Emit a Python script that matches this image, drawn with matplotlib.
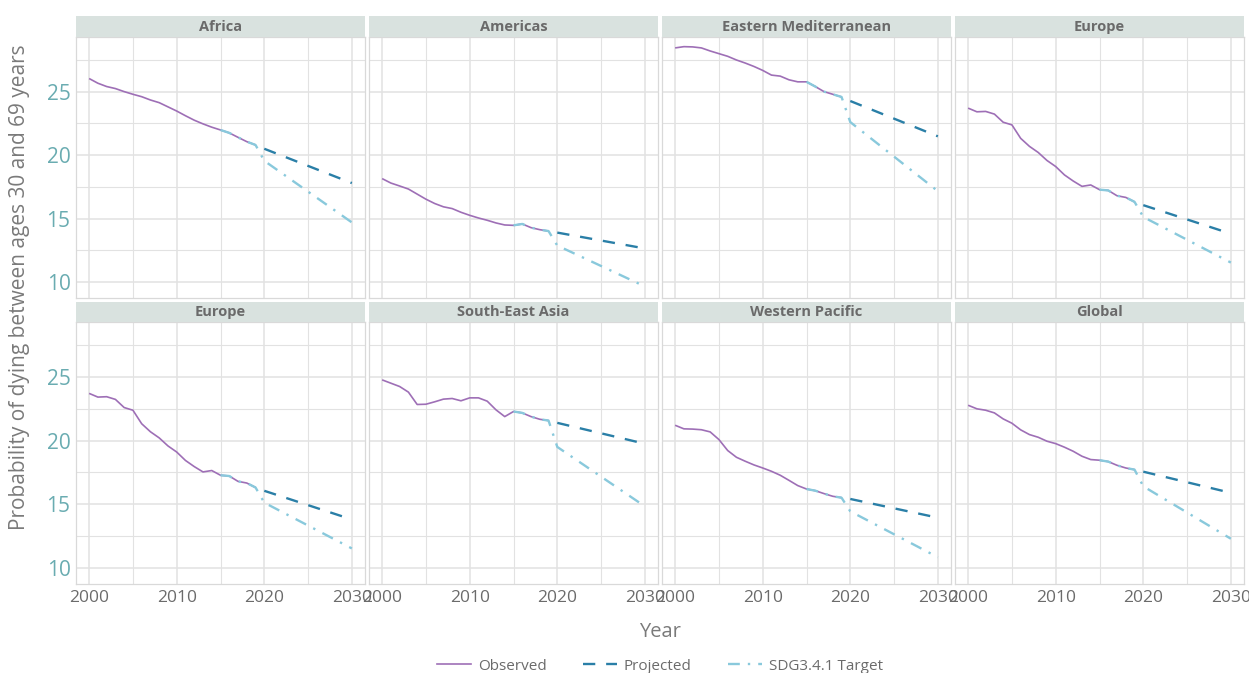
import matplotlib.pyplot as plt
import matplotlib.lines as mlines
import numpy as np

plt.rcParams['font.family'] = ['Open Sans', 'DejaVu Sans']

regions = ["Africa", "Americas", "Eastern Mediterranean", "Europe",
           "Europe", "South-East Asia", "Western Pacific", "Global"]

obs_years = np.arange(2000, 2020)
proj_years = [2020, 2030]

observed = {
    "Africa": [26.03, 25.66, 25.4, 25.24, 25.0, 24.79, 24.6, 24.34, 24.13, 23.8,
               23.47, 23.1, 22.75, 22.46, 22.2, 21.98, 21.75, 21.4, 21.06, 20.8],
    "Americas": [18.15, 17.8, 17.57, 17.33, 16.93, 16.53, 16.19, 15.93, 15.79, 15.5,
                 15.26, 15.05, 14.87, 14.66, 14.5, 14.47, 14.58, 14.29, 14.13, 14.02],
    "Eastern Mediterranean": [28.44, 28.54, 28.52, 28.44, 28.2, 27.99, 27.78, 27.49, 27.25, 26.98,
                              26.67, 26.3, 26.22, 25.93, 25.77, 25.77, 25.4, 25.0, 24.79, 24.58],
    "Europe": [23.7, 23.41, 23.44, 23.23, 22.59, 22.38, 21.32, 20.69, 20.21, 19.58,
               19.1, 18.44, 17.96, 17.54, 17.65, 17.28, 17.22, 16.8, 16.67, 16.32],
    "South-East Asia": [24.76, 24.5, 24.24, 23.8, 22.83, 22.85, 23.04, 23.25, 23.3, 23.12,
                        23.35, 23.35, 23.09, 22.41, 21.88, 22.28, 22.17, 21.88, 21.67, 21.57],
    "Western Pacific": [21.2, 20.92, 20.9, 20.85, 20.68, 20.08, 19.22, 18.69, 18.38, 18.09,
                        17.85, 17.59, 17.28, 16.88, 16.47, 16.2, 16.07, 15.84, 15.63, 15.52],
    "Global": [22.77, 22.49, 22.38, 22.17, 21.7, 21.36, 20.84, 20.47, 20.26, 19.95,
               19.76, 19.48, 19.16, 18.77, 18.51, 18.46, 18.35, 18.06, 17.85, 17.72],
}

# projected values at 2020 and 2030
projected = {
    "Africa": [20.5, 17.8],
    "Americas": [13.9, 12.65],
    "Eastern Mediterranean": [24.26, 21.48],
    "Europe": [16.06, 13.81],
    "South-East Asia": [21.39, 19.75],
    "Western Pacific": [15.42, 13.95],
    "Global": [17.56, 15.9],
}

# SDG target path at 2020 and 2030 (joins observed from 2015)
sdg_target = {
    "Africa": [19.55, 14.7],
    "Americas": [12.88, 9.66],
    "Eastern Mediterranean": [22.6, 17.16],
    "Europe": [15.13, 11.54],
    "South-East Asia": [19.5, 14.84],
    "Western Pacific": [14.45, 10.85],
    "Global": [16.41, 12.3],
}

c_obs = "#9e6fb6"
c_proj = "#2a7fa7"
c_sdg = "#89c9dc"
grid_c = "#e2e2e2"

W, H = 1249, 673
fig = plt.figure(figsize=(W / 100, H / 100), dpi=100)

col_left = [76, 369, 662, 955]
col_w = 289
rows = [(37, 298, 16), (322, 584, 302)]

for i, reg in enumerate(regions):
    r, c = divmod(i, 4)
    top, bottom, strip_top = rows[r]
    ax = fig.add_axes([col_left[c] / W, 1 - bottom / H, col_w / W, (bottom - top) / H])
    ax.set_xlim(1998.5, 2031.5)
    ax.set_ylim(8.75, 29.3)
    ax.set_xticks([2000, 2010, 2020, 2030])
    ax.set_xticks([2005, 2015, 2025], minor=True)
    ax.set_yticks([10, 15, 20, 25])
    ax.set_yticks([12.5, 17.5, 22.5, 27.5], minor=True)
    ax.grid(which="major", color=grid_c, lw=1.1)
    ax.grid(which="minor", color=grid_c, lw=0.8)
    ax.set_axisbelow(True)
    for s in ax.spines.values():
        s.set_color("#d9d9d9")
        s.set_linewidth(0.9)
    ax.tick_params(which="both", length=0)
    ax.tick_params(axis="y", labelsize=15, labelcolor="#6aacb1", pad=4)
    ax.tick_params(axis="x", labelsize=12.5, labelcolor="#6b6b6b", pad=4)
    if c != 0:
        ax.set_yticklabels([])
    if r == 0:
        ax.set_xticklabels([])

    obs = observed[reg]
    proj = projected[reg]
    sdg = sdg_target[reg]
    sdg_years = list(obs_years[15:]) + proj_years
    sdg_vals = list(obs[15:]) + sdg

    ax.plot(obs_years, obs, color=c_obs, lw=1.2, solid_capstyle="butt")
    ax.plot(proj_years, proj, color=c_proj, lw=1.7, dashes=(5.2, 4.6))
    ax.plot(sdg_years, sdg_vals, color=c_sdg, lw=1.7, dashes=(5.0, 3.4, 1.0, 3.4))

    sax = fig.add_axes([col_left[c] / W, 1 - top / H, col_w / W, (top - strip_top) / H])
    sax.set_facecolor("#d9e2df")
    sax.set_xticks([])
    sax.set_yticks([])
    for s in sax.spines.values():
        s.set_visible(False)
    sax.text(0.5, 0.48, reg, ha="center", va="center", fontsize=10.5,
             fontweight="bold", color="#6a6a6a", transform=sax.transAxes)

fig.text(20 / W, 1 - 287 / H, "Probability of dying between ages 30 and 69 years",
         rotation=90, ha="center", va="center", fontsize=15, color="#7a7a7a")
fig.text(660 / W, 1 - 632 / H, "Year", ha="center", va="center", fontsize=14.5,
         color="#7a7a7a")

handles = [
    mlines.Line2D([], [], color=c_obs, lw=1.2),
    mlines.Line2D([], [], color=c_proj, lw=1.7, dashes=(5.2, 4.6)),
    mlines.Line2D([], [], color=c_sdg, lw=1.7, dashes=(5.0, 3.4, 1.0, 3.4)),
]
labels = ["Observed", "Projected", "SDG3.4.1 Target"]
leg = fig.legend(handles, labels, loc="center", bbox_to_anchor=(660 / W, 1 - 666 / H),
                 ncol=3, frameon=False, fontsize=11, handlelength=2.2,
                 columnspacing=2.4, handletextpad=0.45)
for t in leg.get_texts():
    t.set_color("#6b6b6b")

fig.savefig("out.png", dpi=100)
